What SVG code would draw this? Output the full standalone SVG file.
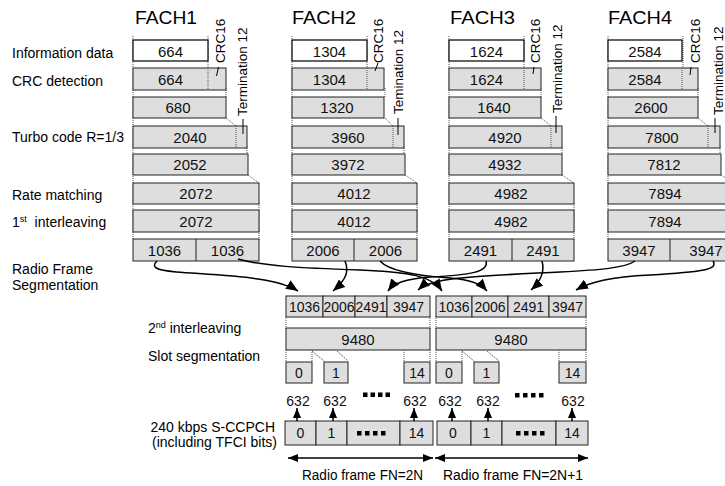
<svg xmlns="http://www.w3.org/2000/svg" width="725" height="486" viewBox="0 0 725 486">
<defs>
<style>
.box{fill:#dedede;stroke:#222;stroke-width:1}
.wbox{fill:#fff;stroke:#111;stroke-width:1.3}
.dot{stroke:#555;stroke-width:1;stroke-dasharray:1 1;fill:none}
.sl{stroke:#444;stroke-width:0.8;stroke-dasharray:2 1;fill:none}
.num{font-family:"Liberation Sans",Arial,sans-serif;font-size:15px;text-anchor:middle;fill:#111}
.n14{font-size:14px}
.lbl{font-family:"Liberation Sans",Arial,sans-serif;font-size:14px;fill:#000}
.title{font-family:"Liberation Sans",Arial,sans-serif;font-size:18px;fill:#000}
.rot{font-family:"Liberation Sans",Arial,sans-serif;font-size:13.5px;fill:#000}
.lead{stroke:#000;stroke-width:1;fill:none}
.conn{fill:none;stroke:#000;stroke-width:1.5}
.sq{fill:#000}
</style>
<marker id="ah" viewBox="0 0 12 10" refX="12" refY="5" markerWidth="12" markerHeight="10" markerUnits="userSpaceOnUse" orient="auto"><path d="M0,0 L12,5 L0,10 z" fill="#000"/></marker>
<marker id="as" viewBox="0 0 10 8" refX="10" refY="4" markerWidth="10" markerHeight="8" markerUnits="userSpaceOnUse" orient="auto-start-reverse"><path d="M0,0 L10,4 L0,8 z" fill="#000"/></marker>
</defs>
<rect x="0" y="0" width="725" height="486" fill="#fff"/>

<!-- left labels -->
<g id="labels">
<text class="lbl" x="12" y="58">Information data</text>
<text class="lbl" x="12" y="86">CRC detection</text>
<text class="lbl" x="12" y="142">Turbo code R=1/3</text>
<text class="lbl" x="12" y="200">Rate matching</text>
<text class="lbl" x="12" y="227">1<tspan font-size="9" dy="-5">st</tspan><tspan dy="5">&#160; interleaving</tspan></text>
<text class="lbl" x="12" y="274">Radio Frame</text>
<text class="lbl" x="12" y="290">Segmentation</text>
<text class="lbl" x="148" y="333">2<tspan font-size="9" dy="-5">nd</tspan><tspan dy="5"> interleaving</tspan></text>
<text class="lbl" x="148" y="361">Slot segmentation</text>
<text class="lbl" x="275" y="432" text-anchor="end">240 kbps S-CCPCH</text>
<text class="lbl" x="277" y="447" text-anchor="end">(including TFCI bits)</text>
</g>

<!-- FACH1 -->
<g id="fach1" transform="translate(133,0)">
<text class="title" x="2" y="24" textLength="62" lengthAdjust="spacingAndGlyphs">FACH1</text>
<line class="dot" x1="0" y1="36" x2="0" y2="240"/>
<line class="dot" x1="75" y1="36" x2="75" y2="90"/>
<line class="dot" x1="93" y1="88" x2="93" y2="98"/>
<line class="dot" x1="93" y1="118" x2="103" y2="126"/>
<line class="dot" x1="103" y1="126" x2="103" y2="148"/>
<line class="dot" x1="114" y1="146" x2="114" y2="155"/>
<line class="dot" x1="115" y1="175" x2="126" y2="183"/>
<line class="dot" x1="126" y1="203" x2="126" y2="240"/>
<g id="fach1-info"><rect class="wbox" x="0" y="40" width="75" height="21"/><text class="num" x="37.5" y="57">664</text></g>
<g id="fach1-crc"><rect class="box" x="0" y="68" width="93" height="22"/><line class="dot" x1="75" y1="68" x2="75" y2="90"/><text class="num" x="37.5" y="85">664</text></g>
<g id="fach1-crcout"><rect class="box" x="0" y="97" width="93" height="21"/><text class="num" x="45" y="113">680</text></g>
<g id="fach1-turbo"><rect class="box" x="0" y="126" width="114" height="22"/><line class="dot" x1="103" y1="126" x2="103" y2="148"/><text class="num" x="57" y="143">2040</text></g>
<g id="fach1-term"><rect class="box" x="0" y="154" width="115" height="21"/><text class="num" x="57" y="170">2052</text></g>
<g id="fach1-rm"><rect class="box" x="0" y="183" width="126" height="21"/><text class="num" x="63" y="199">2072</text></g>
<g id="fach1-il"><rect class="box" x="0" y="210" width="126" height="22"/><text class="num" x="63" y="227">2072</text></g>
<g id="fach1-rfs"><rect class="box" x="0" y="239" width="126" height="22"/><line stroke="#222" x1="63" y1="239" x2="63" y2="261"/><text class="num" x="31.5" y="256">1036</text><text class="num" x="94.5" y="256">1036</text></g>
<text class="rot" transform="translate(92,63) rotate(-90)">CRC16</text>
<line class="lead" x1="85.5" y1="67" x2="83.5" y2="76"/>
<text class="rot" transform="translate(114,116) rotate(-90)">Termination 12</text>
<line class="lead" x1="110" y1="119" x2="110" y2="134"/>
</g>

<!-- FACH2 -->
<g id="fach2" transform="translate(292,0)">
<text class="title" x="0" y="24" textLength="64" lengthAdjust="spacingAndGlyphs">FACH2</text>
<line class="dot" x1="0" y1="36" x2="0" y2="240"/>
<line class="dot" x1="75" y1="36" x2="75" y2="90"/>
<line class="dot" x1="93" y1="88" x2="93" y2="98"/>
<line class="dot" x1="93" y1="118" x2="101" y2="126"/>
<line class="dot" x1="112" y1="146" x2="112" y2="155"/>
<line class="dot" x1="113" y1="175" x2="125" y2="183"/>
<line class="dot" x1="125" y1="203" x2="125" y2="240"/>
<g id="fach2-info"><rect class="wbox" x="0" y="40" width="75" height="21"/><text class="num" x="37.5" y="57">1304</text></g>
<g id="fach2-crc"><rect class="box" x="0" y="68" width="92" height="22"/><line class="dot" x1="75" y1="68" x2="75" y2="90"/><text class="num" x="37.5" y="85">1304</text></g>
<g id="fach2-crcout"><rect class="box" x="0" y="97" width="92" height="21"/><text class="num" x="45" y="113">1320</text></g>
<g id="fach2-turbo"><rect class="box" x="0" y="126" width="112" height="22"/><line class="dot" x1="101" y1="126" x2="101" y2="148"/><text class="num" x="56" y="143">3960</text></g>
<g id="fach2-term"><rect class="box" x="0" y="154" width="113" height="21"/><text class="num" x="56" y="170">3972</text></g>
<g id="fach2-rm"><rect class="box" x="0" y="183" width="125" height="21"/><text class="num" x="62" y="199">4012</text></g>
<g id="fach2-il"><rect class="box" x="0" y="210" width="125" height="22"/><text class="num" x="62" y="227">4012</text></g>
<g id="fach2-rfs"><rect class="box" x="0" y="239" width="125" height="22"/><line stroke="#222" x1="62" y1="239" x2="62" y2="261"/><text class="num" x="31" y="256">2006</text><text class="num" x="93.5" y="256">2006</text></g>
<text class="rot" transform="translate(91,63) rotate(-90)">CRC16</text>
<line class="lead" x1="86" y1="63" x2="83" y2="71"/>
<text class="rot" transform="translate(111,114) rotate(-90)">Temination 12</text>
<line class="lead" x1="106" y1="118" x2="106" y2="135"/>
</g>

<!-- FACH3 -->
<g id="fach3" transform="translate(449,0)">
<text class="title" x="1" y="24" textLength="65" lengthAdjust="spacingAndGlyphs">FACH3</text>
<line class="dot" x1="0" y1="36" x2="0" y2="240"/>
<line class="dot" x1="75" y1="36" x2="75" y2="90"/>
<line class="dot" x1="92" y1="88" x2="92" y2="98"/>
<line class="dot" x1="92" y1="118" x2="102" y2="126"/>
<line class="dot" x1="113" y1="146" x2="113" y2="155"/>
<line class="dot" x1="113" y1="175" x2="125" y2="183"/>
<line class="dot" x1="125" y1="203" x2="125" y2="240"/>
<g id="fach3-info"><rect class="wbox" x="0" y="40" width="75" height="21"/><text class="num" x="37.5" y="57">1624</text></g>
<g id="fach3-crc"><rect class="box" x="0" y="68" width="92" height="22"/><line class="dot" x1="75" y1="68" x2="75" y2="90"/><text class="num" x="37.5" y="85">1624</text></g>
<g id="fach3-crcout"><rect class="box" x="0" y="97" width="92" height="21"/><text class="num" x="45" y="113">1640</text></g>
<g id="fach3-turbo"><rect class="box" x="0" y="126" width="113" height="22"/><line class="dot" x1="102" y1="126" x2="102" y2="148"/><text class="num" x="56" y="143">4920</text></g>
<g id="fach3-term"><rect class="box" x="0" y="154" width="113" height="21"/><text class="num" x="56" y="170">4932</text></g>
<g id="fach3-rm"><rect class="box" x="0" y="183" width="125" height="21"/><text class="num" x="62" y="199">4982</text></g>
<g id="fach3-il"><rect class="box" x="0" y="210" width="125" height="22"/><text class="num" x="62" y="227">4982</text></g>
<g id="fach3-rfs"><rect class="box" x="0" y="239" width="125" height="22"/><line stroke="#222" x1="63" y1="239" x2="63" y2="261"/><text class="num" x="31.5" y="256">2491</text><text class="num" x="94" y="256">2491</text></g>
<text class="rot" transform="translate(91,63) rotate(-90)">CRC16</text>
<line class="lead" x1="85" y1="67" x2="84" y2="74"/>
<text class="rot" transform="translate(113,113) rotate(-90)">Termination 12</text>
<line class="lead" x1="107" y1="116" x2="107" y2="133"/>
</g>

<!-- FACH4 -->
<g id="fach4" transform="translate(608,0)">
<text class="title" x="0" y="24" textLength="64" lengthAdjust="spacingAndGlyphs">FACH4</text>
<line class="dot" x1="0" y1="36" x2="0" y2="240"/>
<line class="dot" x1="75" y1="36" x2="75" y2="90"/>
<line class="dot" x1="90" y1="88" x2="90" y2="98"/>
<line class="dot" x1="90" y1="118" x2="100" y2="126"/>
<line class="dot" x1="112" y1="146" x2="112" y2="155"/>
<line class="dot" x1="113" y1="175" x2="125" y2="183"/>
<g id="fach4-info"><rect class="wbox" x="0" y="40" width="74" height="21"/><text class="num" x="37" y="57">2584</text></g>
<g id="fach4-crc"><rect class="box" x="0" y="68" width="90" height="22"/><line class="dot" x1="74" y1="68" x2="74" y2="90"/><text class="num" x="37" y="85">2584</text></g>
<g id="fach4-crcout"><rect class="box" x="0" y="97" width="90" height="21"/><text class="num" x="43" y="113">2600</text></g>
<g id="fach4-turbo"><rect class="box" x="0" y="126" width="112" height="22"/><line class="dot" x1="100" y1="126" x2="100" y2="148"/><text class="num" x="54" y="143">7800</text></g>
<g id="fach4-term"><rect class="box" x="0" y="154" width="113" height="21"/><text class="num" x="56" y="170">7812</text></g>
<g id="fach4-rm"><rect class="box" x="0" y="183" width="125" height="21"/><text class="num" x="57" y="199">7894</text></g>
<g id="fach4-il"><rect class="box" x="0" y="210" width="125" height="22"/><text class="num" x="57" y="227">7894</text></g>
<g id="fach4-rfs"><rect class="box" x="0" y="239" width="125" height="22"/><line stroke="#222" x1="62" y1="239" x2="62" y2="261"/><text class="num" x="31" y="256">3947</text><text class="num" x="98" y="256">3947</text></g>
<text class="rot" transform="translate(92,63) rotate(-90)">CRC16</text>
<line class="lead" x1="83" y1="67" x2="82" y2="75"/>
<text class="rot" transform="translate(115,115) rotate(-90)">Termination 12</text>
<line class="lead" x1="107" y1="118" x2="107" y2="133"/>
</g>

<!-- Radio frame N -->
<g id="frame1">
<line class="dot" x1="286" y1="316" x2="286" y2="330"/>
<line class="dot" x1="430" y1="316" x2="430" y2="330"/>
<g id="f1-il2">
<rect class="box" x="286" y="296" width="37" height="21"/><text class="num n14" x="304.5" y="312">1036</text>
<rect class="box" x="323" y="296" width="32" height="21"/><text class="num n14" x="339" y="312">2006</text>
<rect class="box" x="355" y="296" width="32" height="21"/><text class="num n14" x="371" y="312">2491</text>
<rect class="box" x="387" y="296" width="43" height="21"/><text class="num n14" x="408.5" y="312">3947</text>
</g>
<g id="f1-total"><rect class="box" x="286" y="328" width="144" height="22"/><text class="num" x="358" y="345">9480</text></g>
<line class="dot" x1="286" y1="350" x2="286" y2="362"/>
<line class="dot" x1="312" y1="350" x2="312" y2="362"/>
<line class="sl" x1="312" y1="351" x2="324" y2="361"/>
<line class="sl" x1="337" y1="351" x2="348" y2="361"/>
<line class="dot" x1="404" y1="350" x2="404" y2="362"/>
<line class="dot" x1="430" y1="350" x2="430" y2="362"/>
<g id="f1-slot0"><rect class="box" x="286" y="362" width="26" height="21"/><text class="num n14" x="299" y="378">0</text></g>
<g id="f1-slot1"><rect class="box" x="324" y="362" width="24" height="21"/><text class="num n14" x="336" y="378">1</text></g>
<g id="f1-slot14"><rect class="box" x="404" y="362" width="26" height="21"/><text class="num n14" x="417" y="378">14</text></g>
<text class="num n14" x="298" y="406">632</text>
<text class="num n14" x="335" y="406">632</text>
<rect class="sq" x="363" y="392.5" width="4.5" height="4.5"/><rect class="sq" x="370.5" y="392.5" width="4.5" height="4.5"/><rect class="sq" x="378" y="392.5" width="4.5" height="4.5"/><rect class="sq" x="385.5" y="392.5" width="4.5" height="4.5"/>
<text class="num n14" x="415" y="406">632</text>
<g id="f1-sccpch">
<rect class="box" x="285" y="421" width="31" height="24"/><text class="num n14" x="300.5" y="438">0</text>
<rect class="box" x="316" y="421" width="31" height="24"/><text class="num n14" x="331.5" y="438">1</text>
<rect class="box" x="347" y="421" width="53" height="24"/>
<rect class="sq" x="357" y="431" width="4.5" height="4.5"/><rect class="sq" x="365" y="431" width="4.5" height="4.5"/><rect class="sq" x="373" y="431" width="4.5" height="4.5"/><rect class="sq" x="381" y="431" width="4.5" height="4.5"/>
<rect class="box" x="400" y="421" width="33" height="24"/><text class="num n14" x="416.5" y="438">14</text>
</g>
<text class="lbl" x="302" y="480" textLength="121" lengthAdjust="spacingAndGlyphs">Radio frame FN=2N</text>
</g>

<!-- Radio frame N+1 -->
<g id="frame2">
<line class="dot" x1="436" y1="316" x2="436" y2="330"/>
<line class="dot" x1="586" y1="316" x2="586" y2="330"/>
<g id="f2-il2">
<rect class="box" x="436" y="296" width="36" height="21"/><text class="num n14" x="454" y="312">1036</text>
<rect class="box" x="472" y="296" width="36" height="21"/><text class="num n14" x="490" y="312">2006</text>
<rect class="box" x="508" y="296" width="41" height="21"/><text class="num n14" x="528.5" y="312">2491</text>
<rect class="box" x="549" y="296" width="37" height="21"/><text class="num n14" x="567.5" y="312">3947</text>
</g>
<g id="f2-total"><rect class="box" x="436" y="328" width="150" height="22"/><text class="num" x="511" y="345">9480</text></g>
<line class="dot" x1="436" y1="350" x2="436" y2="362"/>
<line class="dot" x1="462" y1="350" x2="462" y2="362"/>
<line class="sl" x1="462" y1="351" x2="474" y2="361"/>
<line class="sl" x1="487" y1="351" x2="499" y2="361"/>
<line class="dot" x1="559" y1="350" x2="559" y2="362"/>
<line class="dot" x1="586" y1="350" x2="586" y2="362"/>
<g id="f2-slot0"><rect class="box" x="436" y="362" width="26" height="21"/><text class="num n14" x="449" y="378">0</text></g>
<g id="f2-slot1"><rect class="box" x="474" y="362" width="25" height="21"/><text class="num n14" x="486.5" y="378">1</text></g>
<g id="f2-slot14"><rect class="box" x="559" y="362" width="27" height="21"/><text class="num n14" x="572.5" y="378">14</text></g>
<text class="num n14" x="450" y="406">632</text>
<text class="num n14" x="488" y="406">632</text>
<rect class="sq" x="515" y="393" width="4.5" height="4.5"/><rect class="sq" x="523" y="393" width="4.5" height="4.5"/><rect class="sq" x="531" y="393" width="4.5" height="4.5"/><rect class="sq" x="539" y="393" width="4.5" height="4.5"/>
<text class="num n14" x="573" y="406">632</text>
<g id="f2-sccpch">
<rect class="box" x="437" y="421" width="34" height="24"/><text class="num n14" x="453" y="438">0</text>
<rect class="box" x="471" y="421" width="31" height="24"/><text class="num n14" x="486.5" y="438">1</text>
<rect class="box" x="502" y="421" width="54" height="24"/>
<rect class="sq" x="516" y="431" width="4.5" height="4.5"/><rect class="sq" x="524" y="431" width="4.5" height="4.5"/><rect class="sq" x="532" y="431" width="4.5" height="4.5"/><rect class="sq" x="540" y="431" width="4.5" height="4.5"/>
<rect class="box" x="556" y="421" width="32" height="24"/><text class="num n14" x="572" y="438">14</text>
</g>
<text class="lbl" x="443" y="480" textLength="140" lengthAdjust="spacingAndGlyphs">Radio frame FN=2N+1</text>
</g>

<!-- connectors -->
<g id="connectors">
<path class="conn" marker-end="url(#ah)" d="M157,261 C151,267 155,270 176,272 C230,276 276,277 298,291"/>
<path class="conn" marker-end="url(#ah)" d="M238,259 C262,266 300,268 360,270 C410,272 432,276 442,291"/>
<path class="conn" marker-end="url(#ah)" d="M345,261 C349,271 347,279 333,291"/>
<path class="conn" marker-end="url(#ah)" d="M380,261 C390,272 420,276 450,278 C470,280 480,283 487,291"/>
<path class="conn" marker-end="url(#ah)" d="M486,261 C489,272 470,275 430,277 C405,279 394,283 388,291"/>
<path class="conn" marker-end="url(#ah)" d="M542,261 C545,272 541,281 531,290"/>
<path class="conn" marker-end="url(#ah)" d="M635,261 C625,268 600,270 560,272 C480,276 432,277 418,290"/>
<path class="conn" marker-end="url(#ah)" d="M713,261 C719,270 700,272 650,275 C610,277 590,282 576,290"/>
<line class="conn" marker-end="url(#as)" x1="297" y1="421" x2="297" y2="408"/>
<line class="conn" marker-end="url(#as)" x1="333" y1="421" x2="333" y2="408"/>
<line class="conn" marker-end="url(#as)" x1="414" y1="421" x2="414" y2="408"/>
<line class="conn" marker-end="url(#as)" x1="452" y1="421" x2="452" y2="408"/>
<line class="conn" marker-end="url(#as)" x1="488" y1="421" x2="488" y2="408"/>
<line class="conn" marker-end="url(#as)" x1="572" y1="421" x2="572" y2="408"/>
<line class="conn" marker-start="url(#as)" marker-end="url(#as)" x1="288" y1="458" x2="433" y2="458"/>
<line class="conn" marker-start="url(#as)" marker-end="url(#as)" x1="435" y1="458" x2="588" y2="458"/>
</g>
</svg>
